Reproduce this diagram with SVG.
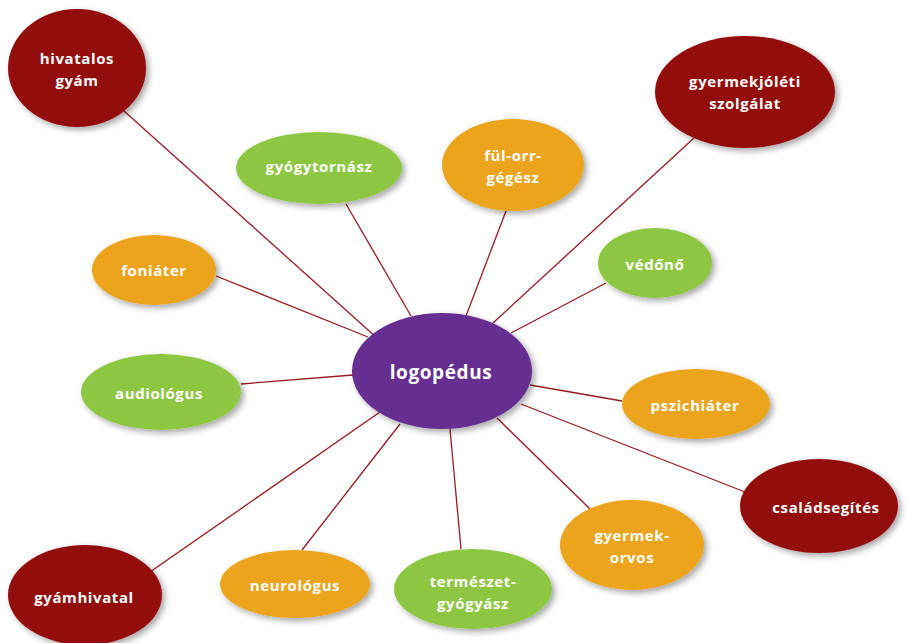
<svg xmlns="http://www.w3.org/2000/svg" width="908" height="643" viewBox="0 0 908 643">
<defs>
<filter id="sh" x="-20%" y="-20%" width="150%" height="150%">
<feDropShadow dx="3" dy="3" stdDeviation="3" flood-color="#000" flood-opacity="0.35"/>
</filter>
<style>
.red{fill:#940a0e}
.org{fill:#eba41c}
.grn{fill:#8dc63f}
.pur{fill:#662d91}
ellipse{filter:url(#sh)}
text{font-family:"Open Sans","DejaVu Sans",sans-serif;font-weight:bold;font-size:15px;fill:#fff;text-anchor:middle;dominant-baseline:central;letter-spacing:0.6px}
.big{font-size:19px}
#links line{stroke:#9b1b1e;stroke-width:1.3}
</style>
</defs>
<rect width="908" height="643" fill="#fff"/>
<g id="links">
<line x1="124" y1="111" x2="377" y2="338"/>
<line x1="346" y1="204" x2="411" y2="316"/>
<line x1="506" y1="211" x2="466" y2="316"/>
<line x1="694" y1="138" x2="493" y2="323"/>
<line x1="606" y1="283" x2="511" y2="333"/>
<line x1="216" y1="276" x2="368" y2="337"/>
<line x1="241" y1="384" x2="353" y2="375"/>
<line x1="622" y1="401" x2="530" y2="385"/>
<line x1="745" y1="492" x2="521" y2="404"/>
<line x1="590" y1="509" x2="497" y2="418"/>
<line x1="461" y1="549" x2="450" y2="429"/>
<line x1="302" y1="550" x2="400" y2="424"/>
<line x1="150" y1="572" x2="380" y2="412"/>
</g>
<g id="hivatalos-gyam"><ellipse class="red" cx="77" cy="68" rx="69" ry="59"/><text x="77" y="58">hivatalos</text><text x="77" y="80">gyám</text></g>
<g id="gyermekjoleti"><ellipse class="red" cx="745" cy="92" rx="90" ry="56"/><text x="745" y="81">gyermekjóléti</text><text x="745" y="103">szolgálat</text></g>
<g id="gyogytornasz"><ellipse class="grn" cx="319" cy="168" rx="83" ry="36"/><text x="319" y="166">gyógytornász</text></g>
<g id="ful-orr-gegesz"><ellipse class="org" cx="513" cy="165" rx="71" ry="46"/><text x="513" y="155">fül-orr-</text><text x="513" y="177">gégész</text></g>
<g id="vedono"><ellipse class="grn" cx="655" cy="263" rx="57" ry="35"/><text x="655" y="264">védőnő</text></g>
<g id="foniater"><ellipse class="org" cx="154" cy="270" rx="62" ry="35"/><text x="154" y="270">foniáter</text></g>
<g id="logopedus"><ellipse class="pur" cx="442" cy="371" rx="90" ry="58"/><text class="big" x="441" y="372">logopédus</text></g>
<g id="audiologus"><ellipse class="grn" cx="161" cy="392" rx="80" ry="38"/><text x="159" y="393">audiológus</text></g>
<g id="pszichiater"><ellipse class="org" cx="696" cy="404" rx="74" ry="35"/><text x="695" y="405">pszichiáter</text></g>
<g id="csaladsegites"><ellipse class="red" cx="819" cy="506" rx="79" ry="47"/><text x="826" y="507">családsegítés</text></g>
<g id="gyermekorvos"><ellipse class="org" cx="632" cy="545" rx="72" ry="45"/><text x="632" y="535">gyermek-</text><text x="632" y="557">orvos</text></g>
<g id="termeszetgyogyasz"><ellipse class="grn" cx="473" cy="589" rx="79" ry="40"/><text x="473" y="581">természet-</text><text x="473" y="603">gyógyász</text></g>
<g id="neurologus"><ellipse class="org" cx="295" cy="584" rx="75" ry="34"/><text x="295" y="585">neurológus</text></g>
<g id="gyamhivatal"><ellipse class="red" cx="85" cy="595" rx="77" ry="50"/><text x="84" y="597">gyámhivatal</text></g>
</svg>
